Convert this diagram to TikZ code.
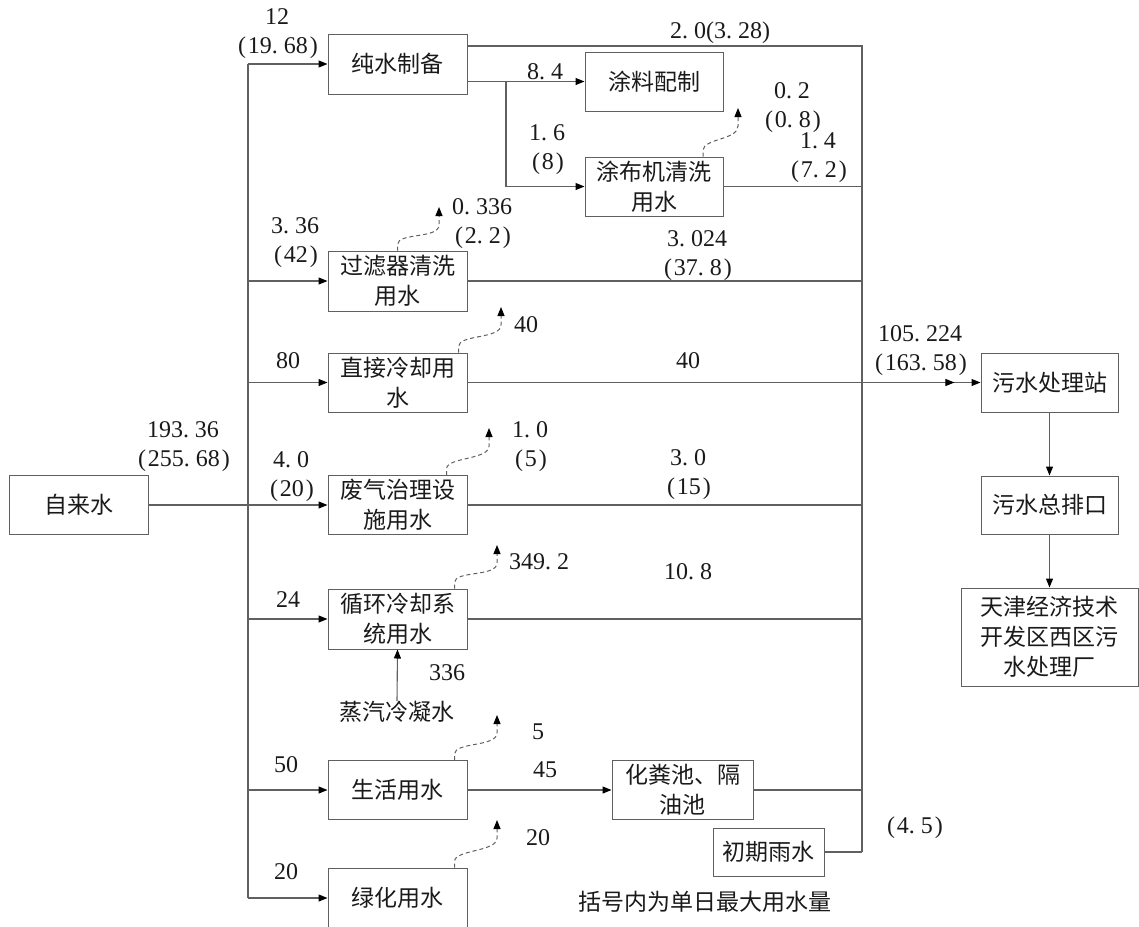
\documentclass[tikz,border=0pt]{standalone}
\usepackage{fontspec}
\setmainfont{Liberation Serif}
\newfontfamily\cjk{Noto Sans CJK SC}
\usetikzlibrary{arrows.meta,calc,decorations.markings}
\definecolor{lc}{HTML}{606060}
\definecolor{tc}{HTML}{1A1A1A}
\newcommand{\p}{.\hspace{0.25em}}
\newcommand{\lp}{\hspace{0.08em}(\hspace{0.08em}}
\newcommand{\rp}{\hspace{0.08em})\hspace{0.08em}}
\begin{document}
\begin{tikzpicture}[x=1pt,y=-1pt,
  box/.style={draw=lc, line width=1pt, inner sep=0pt, align=center, text=tc,
    font=\cjk\fontsize{23}{30}\selectfont, minimum width=139pt, minimum height=59pt},
  ln/.style={draw=lc, line width=1.1pt},
  tip/.style={-{Triangle[length=9pt,width=7pt,color=black]}},
  arr/.style={ln, tip},
  lbl/.style={inner sep=0pt, align=center, text=tc, font=\fontsize{24}{29}\selectfont},
  cjklbl/.style={inner sep=0pt, align=center, text=tc, font=\cjk\fontsize{23}{29}\selectfont},
  evap/.style={draw=lc, line width=1pt, dash pattern=on 4pt off 3pt, tip},
  midarrow/.style={postaction={decorate}, decoration={markings,
    mark=at position 0.78 with {\arrow{Triangle[length=9pt,width=7pt,color=black]}}}}
]
\useasboundingbox (0,0) rectangle (1139,926);

% boxes
\node[box] (zls) at (79,505) {自来水};
\node[box, minimum height=60pt] (cs) at (397.5,64) {纯水制备};
\node[box, minimum width=138pt] (tl) at (654,81.5) {涂料配制};
\node[box, minimum width=138pt] (tb) at (654,186.5) {涂布机清洗\\用水};
\node[box, minimum height=60pt] (gl) at (397.5,281) {过滤器清洗\\用水};
\node[box] (zj) at (397.5,382.5) {直接冷却用\\水};
\node[box] (fq) at (397.5,505) {废气治理设\\施用水};
\node[box, minimum height=60pt] (xh) at (397.5,619) {循环冷却系\\统用水};
\node[box] (sh) at (397.5,790) {生活用水};
\node[box, minimum height=60pt] (lh) at (397.5,898) {绿化用水};
\node[box, minimum width=141pt] (hf) at (682.5,790) {化粪池、隔\\油池};
\node[box, minimum width=111pt, minimum height=48pt] (cq) at (768.5,852) {初期雨水};
\node[box, minimum width=137pt] (ws) at (1049.5,382.5) {污水处理站};
\node[box, minimum width=137pt, minimum height=58pt] (zp) at (1049.5,505) {污水总排口};
\node[box, minimum width=177pt, minimum height=98pt] (tj) at (1049.5,637) {天津经济技术\\开发区西区污\\水处理厂};
\node[cjklbl] (zq) at (397,712) {蒸汽冷凝水};

% junction coordinates
\coordinate (tt) at (248,64);
\coordinate (tbm) at (248,898);
\coordinate (tj0) at (248,505);
\coordinate (rt) at (862,46);
\coordinate (rb) at (862,852);
\coordinate (br) at (506,81);

% supply trunk
\draw[ln] (tt) -- (tbm);
\draw[draw=lc, line width=2pt] (zls.east) -- (tj0);
\draw[arr] (tj0) -- (fq.west);
\draw[arr] (tt) -- (cs.west);
\draw[arr] (gl.west -| tt) -- (gl.west);
\draw[arr] (zj.west -| tt) -- (zj.west);
\draw[arr] (xh.west -| tt) -- (xh.west);
\draw[arr] (sh.west -| tt) -- (sh.west);
\draw[arr] (lh.west -| tt) -- (lh.west);

% pure water branches
\draw[arr] (cs.east |- tl.west) -- (tl.west);
\draw[arr] (br) |- (tb.west);

% collector
\draw[ln] (cs.east |- rt) -- (rt) -- (rb);
\draw[ln] (tb.east) -- (tb.east -| rt);
\draw[ln] (gl.east) -- (gl.east -| rt);
\draw[ln] (zj.east) -- (zj.east -| rt);
\draw[ln] (fq.east) -- (fq.east -| rt);
\draw[ln] (xh.east) -- (xh.east -| rt);
\draw[ln] (hf.east) -- (hf.east -| rt);
\draw[ln] (cq.east) -- (cq.east -| rt);
\draw[arr, midarrow] (zj.east -| rt) -- (ws.west);
\draw[arr] (sh.east) -- (hf.west);
\draw[arr] (zq.north) -- (xh.south);
\draw[arr] (ws.south) -- (zp.north);
\draw[arr] (zp.south) -- (tj.north);

% evaporation losses
\newcommand{\lossarc}[2]{\draw[evap] (#1) -- ++(0,-6) .. controls +(0,-12) and +(0,14) .. ($(#2)+(0,18)$) -- (#2);}
\coordinate (e1) at (439,207);
\coordinate (e2) at (501,307);
\coordinate (e3) at (489,428);
\coordinate (e4) at (497,545);
\coordinate (e5) at (497,715);
\coordinate (e6) at (497,820);
\coordinate (e7) at (738,108);
\lossarc{gl.north}{e1}
\lossarc{[xshift=61pt]zj.north}{e2}
\lossarc{[xshift=49pt]fq.north}{e3}
\lossarc{[xshift=57pt]xh.north}{e4}
\lossarc{[xshift=57pt]sh.north}{e5}
\lossarc{[xshift=57pt]lh.north}{e6}
\lossarc{[xshift=49pt]tb.north}{e7}

% labels
\node[lbl] (l1) at (277,34) {12\\\lp19\p68\rp};
\node[lbl] (l2) at (545,72) {8\p4};
\node[lbl] (l3) at (720,33) {2\p0(3\p28)};
\node[lbl] (l4) at (547,150) {1\p6\\\lp8\rp};
\node[lbl] (l5) at (792,108) {0\p2\\\lp0\p8\rp};
\node[lbl] (l6) at (818,157.5) {1\p4\\\lp7\p2\rp};
\node[lbl] (l7) at (295,243) {3\p36\\\lp42\rp};
\node[lbl] (l8) at (482,224) {0\p336\\\lp2\p2\rp};
\node[lbl] (l9) at (697,255.5) {3\p024\\\lp37\p8\rp};
\node[lbl] (l10) at (288,361) {80};
\node[lbl] (l11) at (526,325) {40};
\node[lbl] (l12) at (688,361) {40};
\node[lbl] (l13) at (920,350.5) {105\p224\\\lp163\p58\rp};
\node[lbl] (l14) at (183,447) {193\p36\\\lp255\p68\rp};
\node[lbl] (l15) at (291,477) {4\p0\\\lp20\rp};
\node[lbl] (l16) at (530,446.5) {1\p0\\\lp5\rp};
\node[lbl] (l17) at (688,475) {3\p0\\\lp15\rp};
\node[lbl] (l18) at (288,600) {24};
\node[lbl] (l19) at (539,562) {349\p2};
\node[lbl] (l20) at (688,572) {10\p8};
\node[lbl] (l21) at (447,673) {336};
\node[lbl] (l22) at (286,765) {50};
\node[lbl] (l23) at (538,732) {5};
\node[lbl] (l24) at (545,770) {45};
\node[lbl] (l25) at (538,838) {20};
\node[lbl] (l26) at (286,872) {20};
\node[lbl] (l27) at (915,828) {\lp4\p5\rp};
\node[cjklbl] (note) at (705,902) {括号内为单日最大用水量};
\end{tikzpicture}
\end{document}
